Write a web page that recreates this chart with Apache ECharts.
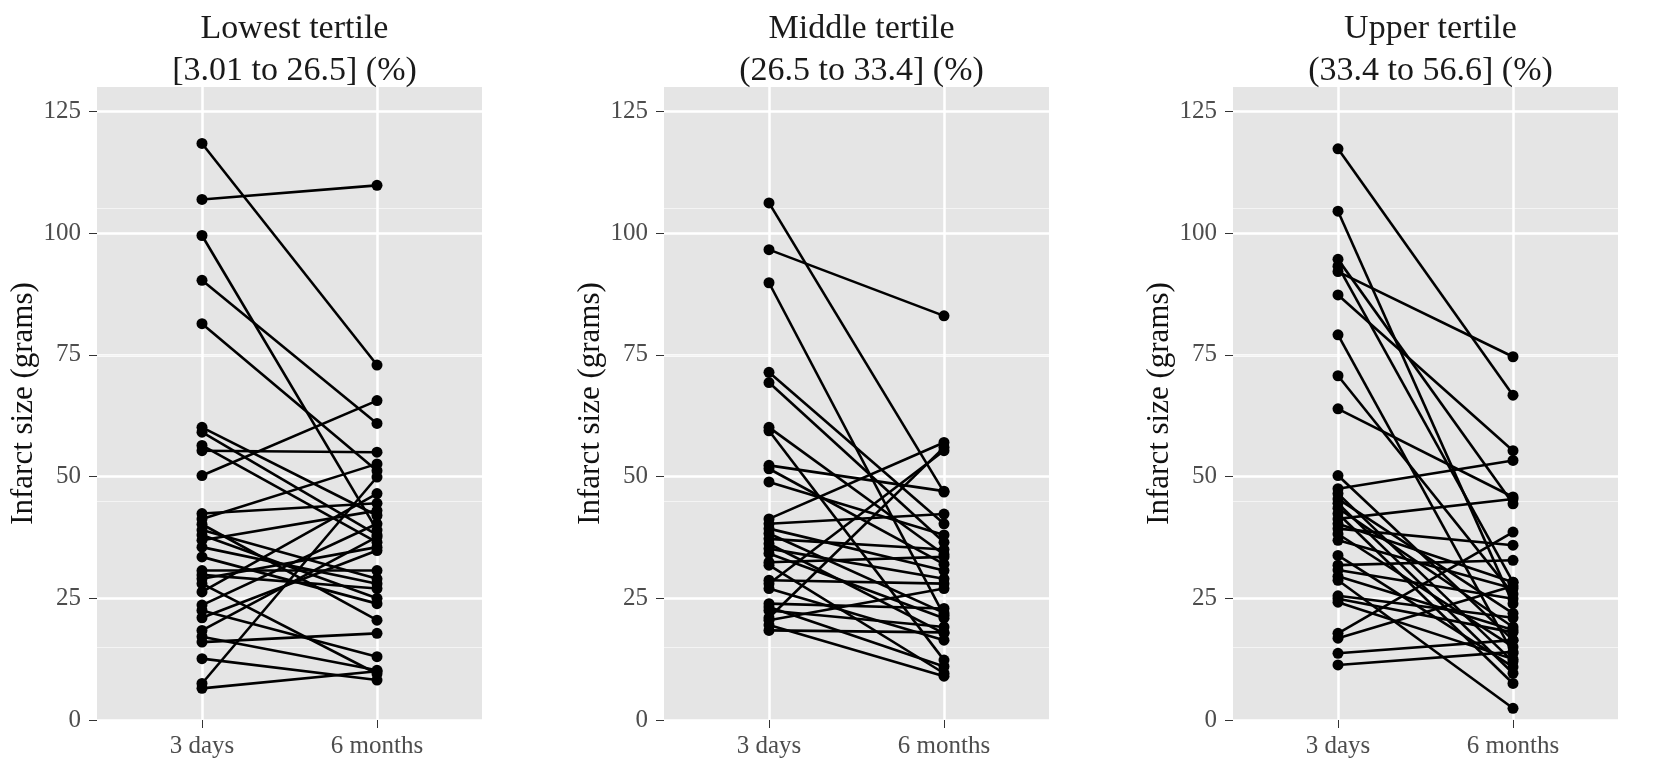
<!DOCTYPE html>
<html>
<head>
<meta charset="utf-8">
<script src="https://cdn.jsdelivr.net/npm/echarts@6/dist/echarts.min.js"></script>
<style>
  html, body { margin: 0; background: #fff; }
  #chart { width: 1657px; height: 765px; }
</style>
</head>
<body>
<div id="chart"></div>
<script>
// paired measurements, index i in day3 goes with index i in month6
const timepoints = ['3 days', '6 months']
const yTicks = [0, 25, 50, 75, 100, 125]
const panelTitles = [
  'Lowest tertile\n[3.01 to 26.5] (%)',
  'Middle tertile\n(26.5 to 33.4] (%)',
  'Upper tertile\n(33.4 to 56.6] (%)'
]

const lowDay3 = [118.4, 106.9, 99.5, 90.3, 81.4, 60.1, 59.1, 56.4, 55.3, 50.2, 42.4, 41.3, 40.2, 39.0, 38.0, 36.9,
  35.5, 33.5, 30.7, 29.8, 29.0, 28.0, 26.3, 23.6, 22.5, 21.0, 18.4, 17.1, 16.0, 12.6, 7.5, 6.5]
const lowMonth6 = [72.9, 109.8, 39.0, 60.9, 51.2, 42.0, 38.0, 36.5, 55.0, 65.6, 44.5, 52.6, 20.5, 29.0, 25.0, 43.0,
  28.0, 23.9, 30.7, 27.0, 35.5, 9.5, 46.5, 40.3, 13.0, 34.8, 37.6, 10.2, 17.8, 8.2, 49.9, 10.0]

const midDay3 = [106.2, 96.6, 89.8, 71.4, 69.3, 60.1, 59.4, 52.3, 51.6, 48.9, 41.3, 40.3, 39.3, 38.3, 37.2, 36.2,
  35.2, 34.2, 32.4, 31.8, 28.7, 28.0, 27.0, 23.9, 23.2, 22.5, 21.0, 20.5, 19.5, 18.4]
const midMonth6 = [46.8, 83.0, 21.5, 40.3, 36.5, 34.0, 12.3, 47.0, 32.0, 38.0, 57.0, 42.3, 30.7, 22.0, 35.0, 17.8,
  29.0, 20.9, 33.5, 9.6, 28.0, 55.3, 16.4, 22.9, 11.0, 19.1, 56.0, 27.0, 9.0, 18.0]

const upDay3 = [117.3, 104.5, 94.6, 93.2, 92.1, 87.3, 79.1, 70.7, 63.9, 50.2, 47.5, 46.5, 45.4, 44.5, 43.5, 42.4,
  41.3, 40.3, 39.3, 38.2, 36.9, 33.8, 31.8, 30.8, 29.5, 28.7, 25.5, 24.9, 24.2, 17.8, 16.8, 13.7, 11.3]
const upMonth6 = [66.7, 23.9, 44.4, 28.3, 74.6, 55.3, 13.7, 25.9, 45.8, 16.4, 53.3, 12.0, 21.9, 9.6, 19.1, 7.5,
  45.4, 28.3, 35.9, 15.0, 27.0, 10.9, 32.8, 24.9, 18.5, 2.4, 21.0, 18.0, 12.5, 38.6, 27.5, 16.4, 14.0]

const panels = [
  { day3: lowDay3, month6: lowMonth6 },
  { day3: midDay3, month6: midMonth6 },
  { day3: upDay3, month6: upMonth6 }
]

const serif = 'Liberation Serif'
const gridLefts = [97, 664, 1233]
const plotW = 385
const plotTop = 87
const plotH = 633

const chart = echarts.init(document.getElementById('chart'))

const grid = []
const xAxis = []
const yAxis = []
const title = []
const series = []

panels.forEach((p, i) => {
  grid.push({
    left: gridLefts[i], top: plotTop, width: plotW, height: plotH,
    show: true, backgroundColor: '#e5e5e5', borderWidth: 0
  })
  title.push({
    text: panelTitles[i],
    left: gridLefts[i] + plotW / 2,
    top: 3,
    textAlign: 'center',
    textStyle: { fontFamily: serif, fontSize: 34, lineHeight: 42, fontWeight: 'normal', color: '#1a1a1a' }
  })
  xAxis.push({
    type: 'value', gridIndex: i, min: 0.4, max: 2.6,
    axisLine: { show: false },
    axisTick: { show: true, customValues: [1, 2], length: 8, lineStyle: { color: '#333', width: 1 } },
    axisLabel: {
      customValues: [1, 2], margin: 14,
      formatter: v => timepoints[Math.round(v) - 1] || '',
      fontFamily: serif, fontSize: 25, color: '#4d4d4d'
    },
    splitLine: { show: true, lineStyle: { color: '#fff', width: 2.5 } }
  })
  yAxis.push({
    type: 'value', gridIndex: i, min: 0, max: 130,
    name: 'Infarct size (grams)', nameLocation: 'middle', nameGap: 57,
    nameTextStyle: { fontFamily: serif, fontSize: 31, color: '#111' },
    axisLine: { show: false },
    axisTick: { show: true, customValues: yTicks, length: 8, lineStyle: { color: '#333', width: 1 } },
    axisLabel: {
      customValues: yTicks, margin: 16, fontFamily: serif, fontSize: 25, color: '#4d4d4d'
    },
    splitLine: { show: true, lineStyle: { color: '#fff', width: 2.5 } },
    minorTick: { show: false, splitNumber: 2 },
    minorSplitLine: { show: true, lineStyle: { color: '#f4f4f4', width: 1.2 } }
  })
  p.day3.forEach((d, k) => {
    series.push({
      type: 'line', xAxisIndex: i, yAxisIndex: i,
      data: [[1, d], [2, p.month6[k]]],
      symbol: 'circle', symbolSize: 11, showSymbol: true,
      itemStyle: { color: '#000' },
      lineStyle: { color: '#000', width: 2.6 },
      silent: true, z: 3
    })
  })
})

chart.setOption({
  animation: false,
  title,
  grid,
  xAxis,
  yAxis,
  series
})
</script>
</body>
</html>
